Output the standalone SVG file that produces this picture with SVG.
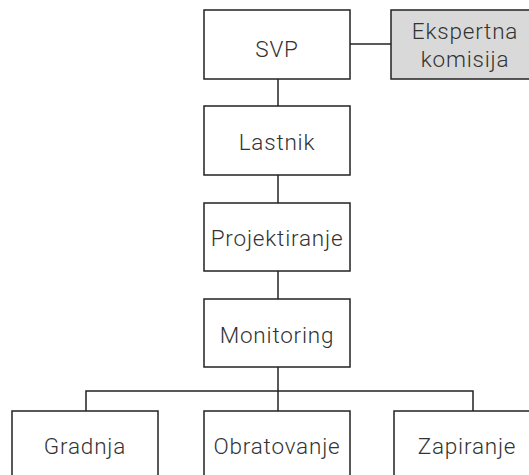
<svg xmlns="http://www.w3.org/2000/svg" width="529" height="475" viewBox="0 0 529 475">
<style>
.box{fill:#fff;stroke:#222;stroke-width:1.5}
.grey{fill:#d9d9d9}
.t{font-family:Roboto,"Liberation Sans",sans-serif;font-weight:300;font-size:22.5px;letter-spacing:0.8px;fill:#333;text-anchor:middle}
.c{stroke:#222;stroke-width:1.5;fill:none}
</style>
<rect width="529" height="475" fill="#fff"/>
<g id="connectors">
<line class="c" x1="350" y1="44" x2="391" y2="44"/>
<line class="c" x1="278" y1="79" x2="278" y2="106"/>
<line class="c" x1="278" y1="175" x2="278" y2="203"/>
<line class="c" x1="278" y1="271" x2="278" y2="299"/>
<line class="c" x1="278" y1="367" x2="278" y2="411"/>
<polyline class="c" points="86,411 86,391 473,391 473,411"/>
</g>
<g id="svp"><rect class="box" x="204" y="10" width="146" height="69"/><text class="t" x="277" y="57">SVP</text></g>
<g id="ekspertna"><rect class="box grey" x="391" y="10" width="148" height="69"/><text class="t" x="465" y="39">Ekspertna</text><text class="t" x="465" y="67">komisija</text></g>
<g id="lastnik"><rect class="box" x="204" y="106" width="146" height="69"/><text class="t" x="277" y="150">Lastnik</text></g>
<g id="projektiranje"><rect class="box" x="204" y="203" width="146" height="68"/><text class="t" x="277" y="246">Projektiranje</text></g>
<g id="monitoring"><rect class="box" x="204" y="299" width="146" height="68"/><text class="t" x="277" y="343">Monitoring</text></g>
<g id="gradnja"><rect class="box" x="12" y="411" width="146" height="70"/><text class="t" x="85" y="454">Gradnja</text></g>
<g id="obratovanje"><rect class="box" x="204" y="411" width="146" height="70"/><text class="t" x="277" y="454">Obratovanje</text></g>
<g id="zapiranje"><rect class="box" x="394" y="411" width="146" height="70"/><text class="t" x="467" y="454">Zapiranje</text></g>
</svg>
